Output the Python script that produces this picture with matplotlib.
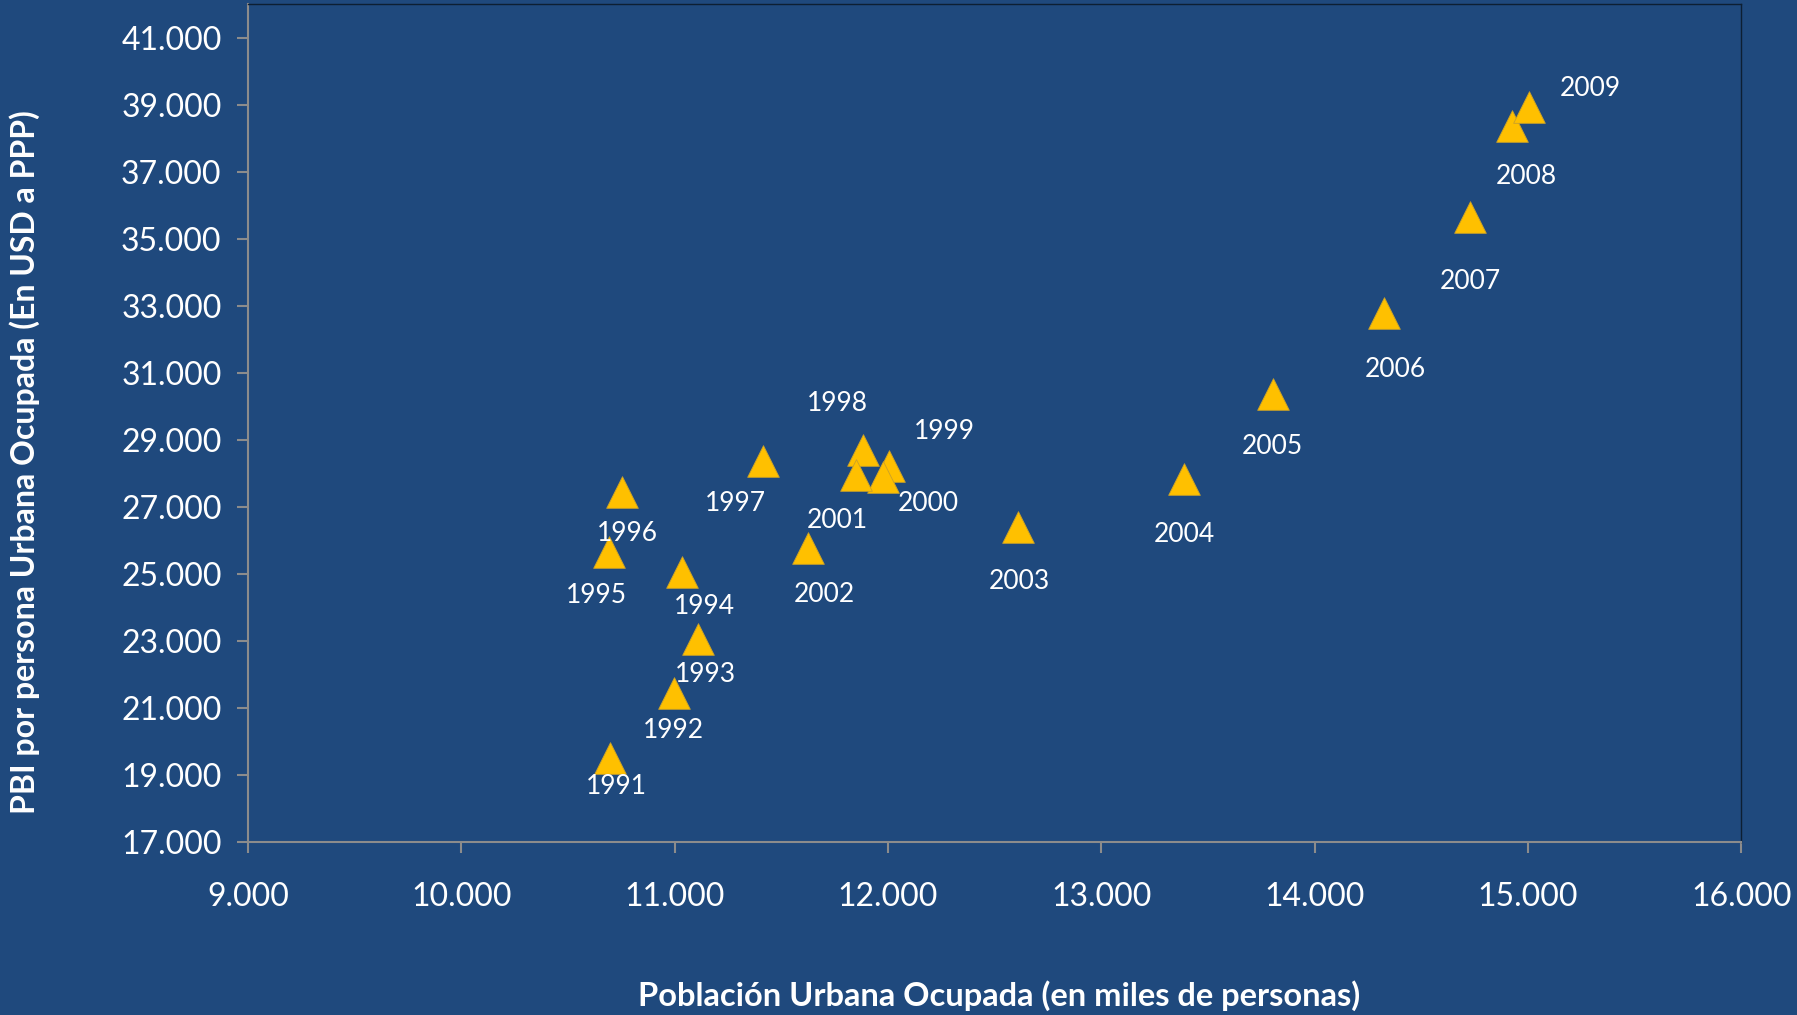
import matplotlib.pyplot as plt
from matplotlib.ticker import FuncFormatter

# datos: poblacion urbana ocupada (miles) vs PBI por persona (USD PPP)
years = [1991, 1992, 1993, 1994, 1995, 1996, 1997, 1998, 1999, 2000,
         2001, 2002, 2003, 2004, 2005, 2006, 2007, 2008, 2009]
poblacion = [10698, 10995, 11108, 11036, 10692, 10751, 11416, 11882, 12005, 11978,
             11851, 11627, 12610, 13389, 13803, 14325, 14729, 14925, 15005]
pbi = [19510, 21430, 23045, 25066, 25640, 27440, 28373, 28700, 28220, 27900,
       27955, 25782, 26390, 27827, 30358, 32785, 35640, 38358, 38940]

# desplazamiento de cada etiqueta (pixeles)
label_dx = [6, 0, 8, 22, -13, 6, -28, -25, 55, 45, -19, 16, 1, 0, 0, 11, 0, 14, 61]
label_dy = [-29, -37, -35, -35, -43, -41, -43, 46, 34, -27, -46, -47, -54, -55, -52, -57, -64, -50, 18]

BG = "#1F497D"
FONT = "Lato"


def fmt_miles(v, pos):
    return "{:,.0f}".format(v).replace(",", ".")


def main():
    fig = plt.figure(figsize=(17.97, 10.15), dpi=100, facecolor=BG)
    ax = fig.add_axes([0.138, 0.1707, 0.8310, 0.8251])
    ax.set_facecolor(BG)

    ax.scatter(poblacion, pbi, marker="^", s=520, color="#FFC000",
               edgecolors="#C9A02A", linewidths=0.6, zorder=3)

    for i in range(len(years)):
        ax.annotate(str(years[i]), (poblacion[i], pbi[i]),
                    xytext=(label_dx[i], label_dy[i]), textcoords="offset pixels",
                    ha="center", va="center", color="white",
                    fontsize=19, family=FONT, zorder=4)

    ax.set_xlim(9000, 16000)
    ax.set_ylim(17000, 42000)
    ax.set_xticks(range(9000, 16001, 1000))
    ax.set_yticks(range(17000, 41001, 2000))
    ax.xaxis.set_major_formatter(FuncFormatter(fmt_miles))
    ax.yaxis.set_major_formatter(FuncFormatter(fmt_miles))

    ax.tick_params(axis="both", colors="#8C8C8C", length=8, width=1.5,
                   labelcolor="white", labelsize=23, direction="out")
    ax.tick_params(axis="x", pad=21)
    ax.tick_params(axis="y", pad=11)
    for lbl in ax.get_xticklabels() + ax.get_yticklabels():
        lbl.set_family(FONT)

    ax.spines["left"].set_color("#8C8C8C")
    ax.spines["bottom"].set_color("#8C8C8C")
    ax.spines["left"].set_linewidth(1.5)
    ax.spines["bottom"].set_linewidth(1.5)
    ax.spines["top"].set_color("#0D1F33")
    ax.spines["right"].set_color("#0D1F33")
    ax.spines["top"].set_linewidth(1.0)
    ax.spines["right"].set_linewidth(1.0)

    fig.text(0.556, 0.019, "Población Urbana Ocupada (en miles de personas)",
             ha="center", va="center", color="white", fontsize=23.5,
             fontweight="bold", family=FONT)
    fig.text(0.0135, 0.545, "PBI por persona Urbana Ocupada (En USD a PPP)",
             ha="center", va="center", rotation=90, color="white", fontsize=23,
             fontweight="bold", family=FONT)

    plt.savefig("out.png", dpi=100, facecolor=BG)
    plt.close()


if __name__ == "__main__":
    main()
